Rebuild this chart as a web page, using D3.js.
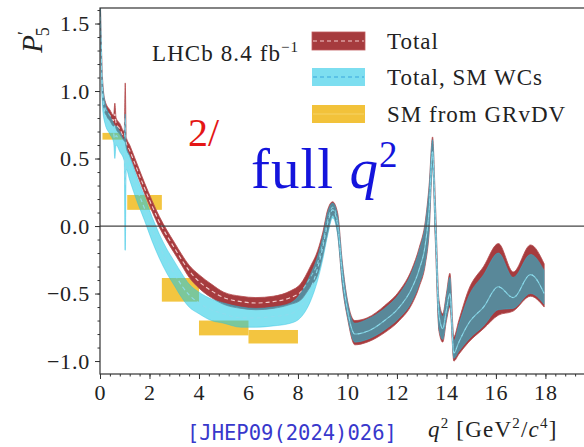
<!DOCTYPE html>
<html>
<head>
<meta charset="utf-8">
<script src="https://cdn.jsdelivr.net/npm/d3@7"></script>
<style>
	body { margin: 0; background: #fff; }
	svg { display: block; }
	text { font-family: "Liberation Serif", serif; fill: #222; }
</style>
</head>
<body>
<svg id="chart"></svg>
<script>
// q^2 grid shared by both bands
const q2 = [0.02, 0.1, 0.2, 0.4, 0.55, 0.6, 0.65, 0.8, 0.98, 1.02, 1.06, 1.2, 1.5, 1.8, 2.1, 2.4, 2.7, 3.0, 3.3, 3.6,
	4.0, 4.5, 5.0, 5.7, 6.3, 7.0, 7.7, 8.1, 8.5, 8.8, 9.0, 9.2, 9.4, 9.6, 9.8, 10.0, 10.3, 10.8, 11.5, 12.1,
	12.6, 12.9, 13.15, 13.3, 13.44, 13.55, 13.7, 13.85, 14.0, 14.14, 14.3, 14.5, 14.9, 15.5, 16.1, 16.7, 17.4, 17.95];

// "Total"
const totalLo = [1.40, 0.95, 0.84, 0.78, 0.74, 0.75, 0.72, 0.68, 0.63, 0.62, 0.58, 0.52, 0.38, 0.24, 0.11, -0.01, -0.11, -0.20, -0.29, -0.38,
	-0.46, -0.53, -0.58, -0.61, -0.62, -0.61, -0.58, -0.55, -0.45, -0.36, -0.22, -0.05, 0.08, -0.05, -0.45, -0.68, -0.88, -0.86, -0.79, -0.70,
	-0.58, -0.45, -0.28, -0.05, 0.45, -0.10, -0.78, -0.86, -0.70, -0.60, -1.00, -0.95, -0.86, -0.76, -0.66, -0.63, -0.52, -0.60];
const totalHi = [1.62, 1.10, 0.93, 0.86, 0.82, 0.91, 0.80, 0.76, 0.70, 1.06, 0.66, 0.60, 0.46, 0.32, 0.19, 0.07, -0.03, -0.12, -0.21, -0.29,
	-0.36, -0.43, -0.49, -0.52, -0.53, -0.52, -0.48, -0.43, -0.30, -0.18, -0.05, 0.12, 0.18, 0.10, -0.28, -0.55, -0.70, -0.68, -0.59, -0.48,
	-0.32, -0.16, 0.04, 0.30, 0.66, 0.20, -0.55, -0.65, -0.50, -0.35, -0.82, -0.70, -0.47, -0.30, -0.13, -0.34, -0.14, -0.28];
const totalMid = [1.50, 1.02, 0.88, 0.82, 0.78, 0.83, 0.76, 0.72, 0.66, 0.80, 0.62, 0.56, 0.42, 0.28, 0.15, 0.03, -0.07, -0.16, -0.25, -0.33,
	-0.41, -0.48, -0.53, -0.56, -0.57, -0.56, -0.53, -0.49, -0.38, -0.27, -0.13, 0.04, 0.14, 0.03, -0.37, -0.62, -0.80, -0.78, -0.70, -0.60,
	-0.46, -0.32, -0.13, 0.12, 0.55, 0.05, -0.66, -0.76, -0.62, -0.50, -0.94, -0.86, -0.72, -0.60, -0.45, -0.53, -0.36, -0.50];

// "Total, SM WCs"
const smLo = [1.45, 0.88, 0.76, 0.68, 0.62, 0.50, 0.60, 0.55, 0.48, -0.18, 0.42, 0.34, 0.18, 0.04, -0.11, -0.24, -0.35, -0.44, -0.53, -0.60,
	-0.65, -0.70, -0.72, -0.75, -0.75, -0.74, -0.72, -0.68, -0.56, -0.40, -0.25, -0.07, 0.06, -0.06, -0.44, -0.67, -0.86, -0.84, -0.77, -0.68,
	-0.56, -0.43, -0.26, -0.03, 0.44, -0.08, -0.76, -0.84, -0.68, -0.58, -0.98, -0.93, -0.84, -0.74, -0.62, -0.61, -0.50, -0.58];
const smHi = [1.62, 1.08, 0.92, 0.82, 0.76, 0.74, 0.74, 0.70, 0.64, 0.83, 0.60, 0.52, 0.36, 0.22, 0.07, -0.06, -0.17, -0.26, -0.35, -0.43,
	-0.49, -0.54, -0.57, -0.60, -0.61, -0.60, -0.57, -0.50, -0.36, -0.22, -0.08, 0.10, 0.17, 0.08, -0.29, -0.56, -0.72, -0.69, -0.61, -0.50,
	-0.34, -0.18, 0.02, 0.28, 0.64, 0.18, -0.57, -0.67, -0.52, -0.38, -0.85, -0.73, -0.52, -0.36, -0.20, -0.38, -0.21, -0.33];
const smMid = [1.55, 0.98, 0.84, 0.75, 0.69, 0.62, 0.67, 0.62, 0.56, 0.30, 0.51, 0.43, 0.27, 0.13, -0.02, -0.15, -0.26, -0.35, -0.44, -0.51,
	-0.57, -0.62, -0.65, -0.68, -0.68, -0.67, -0.65, -0.60, -0.47, -0.31, -0.16, 0.02, 0.12, 0.01, -0.37, -0.62, -0.80, -0.78, -0.70, -0.60,
	-0.46, -0.32, -0.13, 0.12, 0.55, 0.05, -0.66, -0.76, -0.62, -0.50, -0.94, -0.86, -0.72, -0.60, -0.45, -0.53, -0.36, -0.50];

// "SM from GRvDV" bins
const binLo = [0.1, 1.1, 2.5, 4.0, 6.0];
const binHi = [0.98, 2.5, 4.0, 6.0, 8.0];
const grLo = [0.64, 0.12, -0.56, -0.81, -0.87];
const grHi = [0.69, 0.23, -0.385, -0.70, -0.77];

const xTicks = [0, 2, 4, 6, 8, 10, 12, 14, 16, 18];
const yTicks = [-1.0, -0.5, 0.0, 0.5, 1.0, 1.5];
const legendLabels = ["Total", "Total, SM WCs", "SM from GRvDV"];

const width = 584;
const height = 447;

const svg = d3.select("#chart")
	.attr("width", width)
	.attr("height", height);

const x = d3.scaleLinear().domain([0, 19.6]).range([100, 585]);
const y = d3.scaleLinear().domain([-1.096, 1.615]).range([374, 8]);

svg.append("defs").append("clipPath")
	.attr("id", "plot-clip")
	.append("rect")
	.attr("x", x(0))
	.attr("y", y(1.615))
	.attr("width", x(19.6) - x(0))
	.attr("height", y(-1.096) - y(1.615));

const plot = svg.append("g").attr("clip-path", "url(#plot-clip)");

// GRvDV boxes sit underneath
plot.selectAll("rect.gr")
	.data(binLo.map((d, i) => i))
	.join("rect")
	.attr("class", "gr")
	.attr("x", (i) => x(binLo[i]))
	.attr("width", (i) => x(binHi[i]) - x(binLo[i]))
	.attr("y", (i) => y(grHi[i]))
	.attr("height", (i) => y(grLo[i]) - y(grHi[i]))
	.attr("fill", "#f2c030")
	.attr("opacity", 0.92);

const idx = d3.range(q2.length);

function band(lo, hi) {
	return d3.area()
		.x((i) => x(q2[i]))
		.y0((i) => y(lo[i]))
		.y1((i) => y(hi[i]))
		.curve(d3.curveMonotoneX)(idx);
}

function mid(vals) {
	return d3.line()
		.x((i) => x(q2[i]))
		.y((i) => y(vals[i]))
		.curve(d3.curveMonotoneX)(idx);
}

// Total band
plot.append("path")
	.attr("d", band(totalLo, totalHi))
	.attr("fill", "#a63b3e")
	.attr("stroke", "#b44a4c")
	.attr("stroke-width", 0.8);

plot.append("path")
	.attr("d", mid(totalMid))
	.attr("fill", "none")
	.attr("stroke", "#f4cccc")
	.attr("stroke-width", 1.1)
	.attr("stroke-dasharray", "4,3");

// SM WCs band
plot.append("path")
	.attr("d", band(smLo, smHi))
	.attr("fill", "rgb(25,200,228)")
	.attr("fill-opacity", 0.55)
	.attr("stroke", "rgb(40,190,225)")
	.attr("stroke-opacity", 0.5)
	.attr("stroke-width", 0.8);

plot.append("path")
	.attr("d", mid(smMid))
	.attr("fill", "none")
	.attr("stroke", "#8ddcee")
	.attr("stroke-width", 1.1)
	.attr("stroke-dasharray", "4,3");

// zero line
svg.append("line")
	.attr("x1", x(0)).attr("x2", x(19.6))
	.attr("y1", y(0)).attr("y2", y(0))
	.attr("stroke", "#444")
	.attr("stroke-width", 1.2);

// frame
svg.append("rect")
	.attr("x", x(0))
	.attr("y", y(1.615))
	.attr("width", x(19.6) - x(0))
	.attr("height", y(-1.096) - y(1.615))
	.attr("fill", "none")
	.attr("stroke", "#333")
	.attr("stroke-width", 1.2);

// axes
const fmt = d3.format(".1f");
const xAxis = svg.append("g")
	.attr("transform", `translate(0,${y(-1.096)})`)
	.call(d3.axisBottom(x).tickValues(xTicks).tickSize(5).tickPadding(5).tickFormat(d3.format("d")));
const xMinor = svg.append("g")
	.attr("transform", `translate(0,${y(-1.096)})`)
	.call(d3.axisBottom(x).tickValues(d3.range(0, 19.6, 0.4)).tickSize(2.5).tickFormat(""));
const yAxis = svg.append("g")
	.attr("transform", `translate(${x(0)},0)`)
	.call(d3.axisLeft(y).tickValues(yTicks).tickSize(5).tickPadding(5).tickFormat(fmt));
const yMinor = svg.append("g")
	.attr("transform", `translate(${x(0)},0)`)
	.call(d3.axisLeft(y).tickValues(d3.range(-1.0, 1.61, 0.1)).tickSize(2.5).tickFormat(""));

[xAxis, xMinor, yAxis, yMinor].forEach((g) => {
	g.attr("font-family", null);
	g.select(".domain").remove();
	g.selectAll(".tick line").attr("stroke", "#333").attr("stroke-width", 1);
	g.selectAll("text")
		.style("font-family", "'Liberation Serif', serif")
		.style("font-size", "22px")
		.style("letter-spacing", "0.8px")
		.attr("fill", "#222");
});

// axis titles
svg.append("text")
	.attr("transform", "translate(42,40) rotate(-90)")
	.attr("text-anchor", "middle")
	.style("font-size", "29px")
	.html('<tspan font-style="italic">P</tspan><tspan dy="-11" font-size="18">′</tspan><tspan dx="-5" dy="18" font-size="18">5</tspan>');

svg.append("text")
	.attr("x", 428)
	.attr("y", 437)
	.style("font-size", "23px")
	.style("letter-spacing", "1.2px")
	.html('<tspan font-style="italic">q</tspan><tspan dy="-9" font-size="15">2</tspan><tspan dy="9"> [GeV</tspan><tspan dy="-9" font-size="15">2</tspan><tspan dy="9">/</tspan><tspan font-style="italic">c</tspan><tspan dy="-9" font-size="15">4</tspan><tspan dy="9">]</tspan>');

// annotations
svg.append("text")
	.attr("x", 152)
	.attr("y", 61)
	.style("font-size", "23px")
	.style("letter-spacing", "1.1px")
	.html('LHCb 8.4 fb<tspan dy="-9" font-size="15">−1</tspan>');

svg.append("text")
	.attr("x", 188)
	.attr("y", 146)
	.style("font-size", "40px")
	.style("fill", "#e41616")
	.text("2/");

svg.append("text")
	.attr("x", 251)
	.attr("y", 188)
	.style("font-size", "57px")
	.style("letter-spacing", "1px")
	.style("fill", "#1414dc")
	.html('full <tspan font-style="italic">q</tspan><tspan dy="-21" font-size="37">2</tspan>');

svg.append("text")
	.attr("x", 187)
	.attr("y", 440)
	.style("font-family", "'DejaVu Sans Mono', monospace")
	.style("font-size", "20.5px")
	.style("fill", "#3838cc")
	.text("[JHEP09(2024)026]");

// legend
const legend = svg.append("g");
const rowY = [41, 77, 114];
const patchFill = ["#a63b3e", "rgb(125,222,240)", "#f2c23a"];
const patchLine = ["#f4cccc", "#3aa6dd", "#f6d366"];
legendLabels.forEach((label, i) => {
	legend.append("rect")
		.attr("x", 312).attr("y", rowY[i] - 9)
		.attr("width", 53).attr("height", 18)
		.attr("fill", patchFill[i])
		.attr("stroke", i === 0 ? "#c05a5c" : "none")
		.attr("stroke-width", 0.8);
	legend.append("line")
		.attr("x1", 313).attr("x2", 364)
		.attr("y1", rowY[i]).attr("y2", rowY[i])
		.attr("stroke", patchLine[i])
		.attr("stroke-width", 1)
		.attr("stroke-dasharray", i < 2 ? "4,3" : null);
	legend.append("text")
		.attr("x", 387)
		.attr("y", rowY[i] + 8)
		.style("font-size", "23px")
		.style("letter-spacing", "1px")
		.text(label);
});
</script>
</body>
</html>
